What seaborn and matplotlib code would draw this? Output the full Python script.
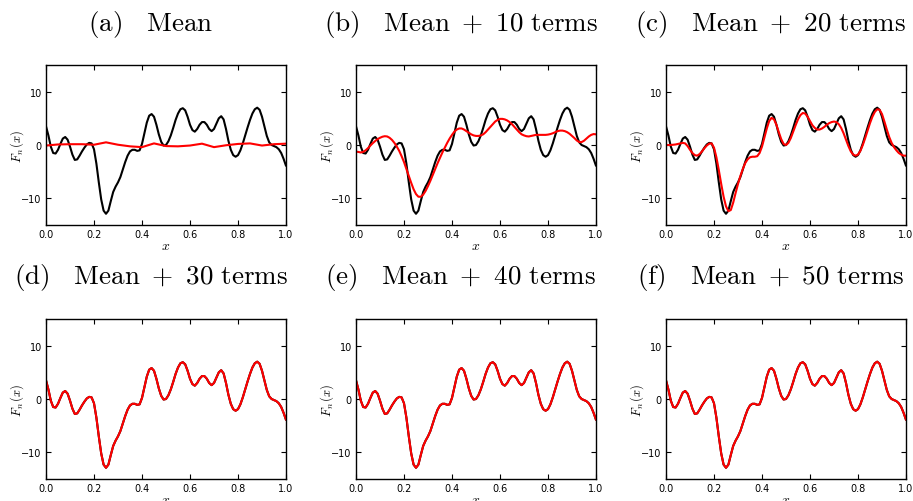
import numpy as np
import pandas as pd
import matplotlib
matplotlib.use("Agg")
import matplotlib.pyplot as plt
import seaborn as sns

# values, x = 0.00, 0.01, ..., 1.00
x_fine = np.round(np.arange(0, 101) / 100, 2)

# the true function (black curve, same in every panel)
f_true = [
    3.5, 1.8, -0.3, -1.5, -1.6, -0.9, 0.2, 1.2, 1.5, 1.0,
    -0.3, -1.8, -2.8, -2.7, -2.0, -1.2, -0.5, 0.1, 0.4, 0.3,
    -0.8, -3.5, -7.0, -10.2, -12.3, -12.9, -12.3, -10.5, -8.8, -7.8,
    -7.0, -6.0, -4.6, -3.2, -2.0, -1.2, -0.9, -0.9, -1.1, -1.0,
    0.2, 2.2, 4.2, 5.5, 5.8, 5.3, 3.8, 2.0, 0.6, -0.1,
    0.0, 0.7, 1.8, 3.2, 4.7, 5.9, 6.7, 6.9, 6.5, 5.3,
    3.8, 2.8, 2.5, 3.0, 3.8, 4.3, 4.3, 3.8, 3.0, 2.6,
    3.0, 4.0, 5.0, 5.4, 4.8, 3.0, 0.8, -0.9, -1.9, -2.2,
    -1.9, -1.0, 0.3, 1.8, 3.3, 4.7, 5.9, 6.7, 7.0, 6.6,
    5.3, 3.5, 1.7, 0.5, 0.0, -0.2, -0.4, -0.8, -1.5, -2.6,
    -3.9,
]

# (a) mean only, read every 0.05
x_coarse = np.round(np.arange(0, 21) / 20, 2)
approx_mean = [
    -0.1, 0.1, 0.15, 0.15, 0.05, 0.5, 0.05, -0.25, -0.4, 0.3,
    -0.2, -0.25, -0.1, 0.25, -0.4, -0.05, 0.2, 0.3, -0.1, 0.15,
    0.25,
]

# (b) mean + 10 terms
approx_10 = [
    -1.25, -1.3, -1.4, -1.3, -1.0, -0.6, -0.1, 0.35, 0.75, 1.1,
    1.35, 1.55, 1.65, 1.6, 1.35, 0.95, 0.4, -0.3, -1.1, -2.1,
    -3.2, -4.5, -5.8, -7.1, -8.3, -9.2, -9.7, -9.7, -9.3, -8.6,
    -7.7, -6.7, -5.6, -4.5, -3.4, -2.4, -1.4, -0.5, 0.4, 1.2,
    1.9, 2.5, 2.9, 3.1, 3.1, 2.9, 2.6, 2.3, 2.0, 1.8,
    1.7, 1.7, 1.8, 2.0, 2.4, 2.9, 3.4, 3.9, 4.4, 4.7,
    4.9, 4.9, 4.8, 4.6, 4.3, 3.9, 3.4, 2.9, 2.4, 2.0,
    1.8, 1.65, 1.6, 1.7, 1.8, 1.9, 1.9, 1.9, 1.9, 1.9,
    1.95, 2.05, 2.2, 2.4, 2.6, 2.7, 2.7, 2.6, 2.4, 2.1,
    1.7, 1.3, 0.85, 0.55, 0.55, 0.8, 1.2, 1.6, 1.9, 2.05,
    2.0,
]

# (c) mean + 20 terms
approx_20 = [
    0.0, 0.0, 0.0, 0.05, 0.1, 0.2, 0.3, 0.4, 0.3, -0.2,
    -0.9, -1.5, -1.9, -2.0, -1.7, -1.2, -0.6, -0.1, 0.25, 0.3,
    -0.5, -2.3, -4.7, -7.3, -9.7, -11.5, -12.4, -12.2, -10.8, -9.0,
    -7.3, -5.8, -4.5, -3.4, -2.7, -2.3, -2.2, -2.2, -2.1, -1.5,
    -0.3, 1.4, 3.1, 4.5, 5.1, 4.8, 3.8, 2.4, 1.1, 0.2,
    0.0, 0.4, 1.3, 2.5, 3.7, 4.8, 5.6, 6.0, 5.9, 5.3,
    4.5, 3.7, 3.2, 2.9, 2.9, 3.1, 3.4, 3.8, 4.1, 4.3,
    4.4, 4.3, 3.9, 3.2, 2.2, 1.0, -0.2, -1.2, -1.8, -2.0,
    -1.8, -1.1, 0.0, 1.3, 2.7, 4.1, 5.3, 6.2, 6.7, 6.6,
    5.8, 4.4, 2.9, 1.5, 0.4, -0.4, -1.0, -1.5, -1.8, -2.0,
    -2.0,
]

# (d)-(f): red lies on top of the black curve
approx_30 = list(f_true)
approx_40 = list(f_true)
approx_50 = list(f_true)

labels = ["(a)", "(b)", "(c)", "(d)", "(e)", "(f)"]
captions = ["Mean", "Mean\\ +\\ 10\\ terms", "Mean\\ +\\ 20\\ terms",
            "Mean\\ +\\ 30\\ terms", "Mean\\ +\\ 40\\ terms", "Mean\\ +\\ 50\\ terms"]
approx = [(x_coarse, approx_mean), (x_fine, approx_10), (x_fine, approx_20),
          (x_fine, approx_30), (x_fine, approx_40), (x_fine, approx_50)]

sns.set_style("ticks")
plt.rcParams["mathtext.fontset"] = "cm"
plt.rcParams["font.family"] = ["DejaVu Sans"]
plt.rcParams["xtick.direction"] = "in"
plt.rcParams["ytick.direction"] = "in"
for k in ["text.color", "axes.labelcolor", "xtick.color", "ytick.color", "axes.edgecolor"]:
    plt.rcParams[k] = "black"

fig = plt.figure(figsize=(9.13, 5.02), dpi=100)

lefts = [46, 356, 666]
col_centers = [151, 461, 771]
row_bottoms = [226, 480]
row_baselines = [30.7, 284.3]
W, H = 913, 502

df_true = pd.DataFrame({"x": x_fine, "F": f_true})

for i in range(6):
    r, c = divmod(i, 3)
    ax = fig.add_axes([lefts[c] / W, 1 - row_bottoms[r] / H, 240 / W, 160 / H])
    sns.lineplot(data=df_true, x="x", y="F", ax=ax, color="black", linewidth=1.5)
    xr, yr = approx[i]
    sns.lineplot(x=xr, y=yr, ax=ax, color="red", linewidth=1.5)
    ax.set_xlim(0, 1)
    ax.set_ylim(-15, 15)
    ax.set_xticks([0.0, 0.2, 0.4, 0.6, 0.8, 1.0])
    ax.set_yticks([-10, 0, 10])
    ax.tick_params(labelsize=7, length=3.5, width=0.8, top=True, right=True, pad=3)
    for s in ax.spines.values():
        s.set_linewidth(1.0)
    ax.set_xlabel(r"$x$", fontsize=10, labelpad=-1)
    ax.set_ylabel(r"$F_n\,(x)$", fontsize=9, labelpad=-3)
    title = "$\\mathrm{" + labels[i] + "\\quad " + captions[i] + "}$"
    fig.text(col_centers[c] / W, 1 - row_baselines[r] / H, title,
             ha="center", va="baseline", fontsize=19.5)

fig.savefig("out.png", dpi=100)
